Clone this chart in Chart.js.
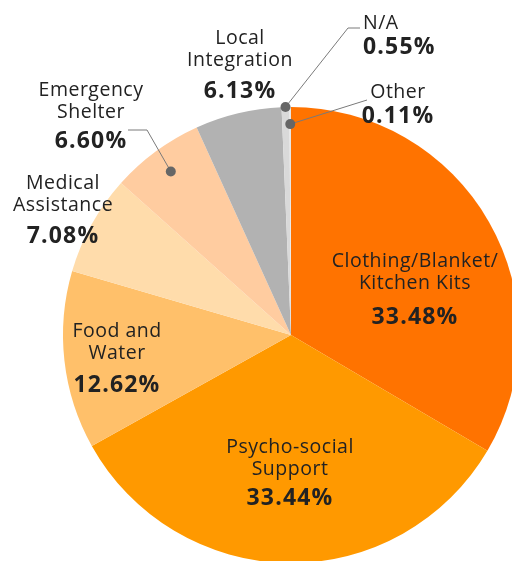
<!DOCTYPE html>
<html>
<head>
<meta charset="utf-8">
<script src="https://cdn.jsdelivr.net/npm/chart.js@4.4.0/dist/chart.umd.min.js"></script>
<style>
  html, body { margin: 0; padding: 0; background: #fff; overflow: hidden; }
  #wrap { width: 512px; height: 561px; overflow: hidden; position: relative; }
  #pie { position: absolute; left: 0; top: 0; }
</style>
</head>
<body>
<div id="wrap"><canvas id="pie" width="582" height="670"></canvas></div>
<script>
var labels = ['Clothing/Blanket/\nKitchen Kits', 'Psycho-social\nSupport', 'Food and\nWater',
              'Medical\nAssistance', 'Emergency\nShelter', 'Local\nIntegration', 'N/A', 'Other'];
var shares = [33.48, 33.44, 12.62, 7.08, 6.60, 6.13, 0.55, 0.11];
var colors = ['#ff7300', '#ff9900', '#ffc06a', '#ffdcab', '#ffcca0', '#b2b2b2', '#d9d9d9', '#e6e6e6'];

// label blocks: x, baseline of first line, offset to the percentage baseline
var labelPos = [
  { x: 415, y: 267, pct: 57 },
  { x: 290, y: 453, pct: 52 },
  { x: 117, y: 337, pct: 55 },
  { x: 63,  y: 189, pct: 54 },
  { x: 91,  y: 96,  pct: 52, dot: 0.89, line: [[147, 130], [128, 130]] },
  { x: 240, y: 44,  pct: 54 },
  { x: 363, y: 29,  pct: 25, left: true, dot: 1.0, line: [[348, 28], [360, 28]] },
  { x: 398, y: 98,  pct: 25, dot: 0.925, line: [[367, 100]] }
];

var textPlugin = {
  id: 'sliceText',
  afterDraw: function (chart) {
    var ctx = chart.ctx;
    var meta = chart.getDatasetMeta(0);
    ctx.save();
    for (var i = 0; i < labels.length; i++) {
      var p = labelPos[i];
      var arc = meta.data[i];
      if (p.dot) {
        var mid = (arc.startAngle + arc.endAngle) / 2;
        var r = arc.outerRadius * p.dot;
        var dx = arc.x + Math.cos(mid) * r;
        var dy = arc.y + Math.sin(mid) * r;
        ctx.strokeStyle = '#7a7a7a';
        ctx.lineWidth = 1;
        ctx.beginPath();
        ctx.moveTo(dx, dy);
        p.line.forEach(function (pt) { ctx.lineTo(pt[0], pt[1]); });
        ctx.stroke();
        ctx.fillStyle = '#666';
        ctx.beginPath();
        ctx.arc(dx, dy, 5, 0, Math.PI * 2);
        ctx.fill();
      }
      var lines = labels[i].split('\n');
      ctx.fillStyle = '#222';
      ctx.textBaseline = 'alphabetic';
      ctx.textAlign = p.left ? 'left' : 'center';
      ctx.font = '19.5px "Open Sans"';
      ctx.letterSpacing = '0.5px';
      lines.forEach(function (ln, k) {
        ctx.fillText(ln, p.x, p.y + k * 22);
      });
      ctx.font = 'bold 23px "Open Sans"';
      ctx.letterSpacing = '1.2px';
      ctx.fillText(shares[i].toFixed(2) + '%', p.x, p.y + p.pct);
    }
    ctx.restore();
  }
};

new Chart(document.getElementById('pie'), {
  type: 'pie',
  data: {
    labels: labels,
    datasets: [{
      data: shares,
      backgroundColor: colors,
      borderWidth: 0
    }]
  },
  options: {
    responsive: false,
    animation: false,
    devicePixelRatio: 1,
    layout: { padding: { left: 63, right: 63, top: 107, bottom: 107 } },
    plugins: { legend: { display: false }, tooltip: { enabled: false } }
  },
  plugins: [textPlugin]
});
</script>
</body>
</html>
